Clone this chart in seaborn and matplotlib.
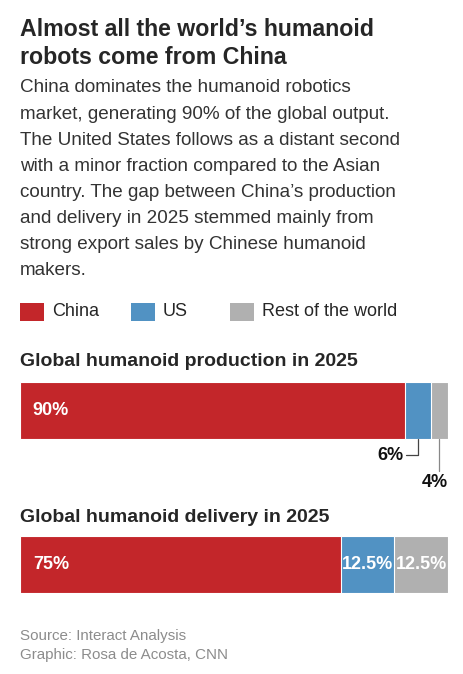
import numpy as np
import pandas as pd
import matplotlib
matplotlib.use("Agg")
import matplotlib.pyplot as plt
import seaborn as sns

# data
charts = ["Global humanoid production in 2025", "Global humanoid delivery in 2025"]
regions = ["China", "US", "Rest of the world"]
china = [90, 75]
us = [6, 12.5]
rest = [4, 12.5]
labels_china = ["90%", "75%"]
labels_us = ["6%", "12.5%"]
labels_rest = ["4%", "12.5%"]
colors = ["#c3262a", "#5192c3", "#b0b0b0"]

W, H = 464, 674
sns.set_theme(style="white")
plt.rcParams["font.family"] = ["Liberation Sans", "DejaVu Sans"]

fig = plt.figure(figsize=(W / 100, H / 100), dpi=100)
fig.patch.set_facecolor("white")


def px(x, y):
    return x / W, 1 - y / H


def txt(x, y, s, **kw):
    fx, fy = px(x, y)
    fig.text(fx, fy, s, **kw)


dark = "#262626"
# title
txt(20, 29, "Almost all the world\u2019s humanoid", fontsize=16.7, fontweight="bold", color=dark, va="center")
txt(20, 57, "robots come from China", fontsize=16.7, fontweight="bold", color=dark, va="center")

sub = ["China dominates the humanoid robotics",
       "market, generating 90% of the global output.",
       "The United States follows as a distant second",
       "with a minor fraction compared to the Asian",
       "country. The gap between China\u2019s production",
       "and delivery in 2025 stemmed mainly from",
       "strong export sales by Chinese humanoid",
       "makers."]
for i, line in enumerate(sub):
    txt(20, 88 + i * 26.1, line, fontsize=13.6, color="#333333", va="center")

# legend
leg_x = [20, 131, 230]
for xx, name, c in zip(leg_x, regions, colors):
    fx, fy = px(xx, 321)
    fig.patches.append(plt.Rectangle((fx, fy), 24 / W, 18 / H, transform=fig.transFigure,
                                     facecolor=c, edgecolor="none"))
    txt(xx + 32, 312, name, fontsize=13, color=dark, va="center")

# bars
df = pd.DataFrame({"chart": charts, "China": china, "US": us, "Rest": rest})
df["c1"] = df["China"]
df["c2"] = df["China"] + df["US"]
df["c3"] = df["c2"] + df["Rest"]

l, b = px(20, 593)
r, t = px(448, 382)
ax = fig.add_axes([l, b, r - l, t - b])
for col, c in zip(["c3", "c2", "c1"], colors[::-1]):
    sns.barplot(data=df, x=col, y="chart", orient="h", color=c, width=57 / 154,
                saturation=1, edgecolor="white", linewidth=0.8, ax=ax)
ax.set_xlim(0, 100)
ax.set_ylim(1 + 28.5 / 154, -28.5 / 154)
ax.axis("off")

for i in range(len(charts)):
    ax.text(3, i, labels_china[i], color="white", fontsize=13, fontweight="bold", va="center")

# delivery labels inside segments
ax.text(df["c2"][1] - 0.4, 1, labels_us[1], color="white", fontsize=13, fontweight="bold",
        va="center", ha="right")
ax.text(df["c3"][1] - 0.2, 1, labels_rest[1], color="white", fontsize=13, fontweight="bold",
        va="center", ha="right")

# production labels with leader lines
us_mid = china[0] + us[0] / 2
rest_mid = df["c2"][0] + rest[0] / 2
ax.plot([us_mid, us_mid, china[0] + 0.2], [0.185, 0.29, 0.29], color="#444444", lw=0.9,
        clip_on=False)
ax.text(china[0] - 0.5, 0.295, labels_us[0], fontsize=13, fontweight="bold", color="#111111",
        va="center", ha="right")
ax.plot([rest_mid, rest_mid], [0.185, 0.39], color="#888888", lw=0.9, clip_on=False)
ax.text(rest_mid - 1.1, 0.47, labels_rest[0], fontsize=13, fontweight="bold", color="#111111",
        va="center", ha="center")

# chart titles
txt(20, 362, charts[0], fontsize=14, fontweight="bold", color=dark, va="center")
txt(20, 518, charts[1], fontsize=14, fontweight="bold", color=dark, va="center")

# source
txt(20, 636, "Source: Interact Analysis", fontsize=10.9, color="#8c8c8c", va="center")
txt(20, 655, "Graphic: Rosa de Acosta, CNN", fontsize=10.9, color="#8c8c8c", va="center")

fig.savefig("out.png", dpi=100, facecolor="white")
